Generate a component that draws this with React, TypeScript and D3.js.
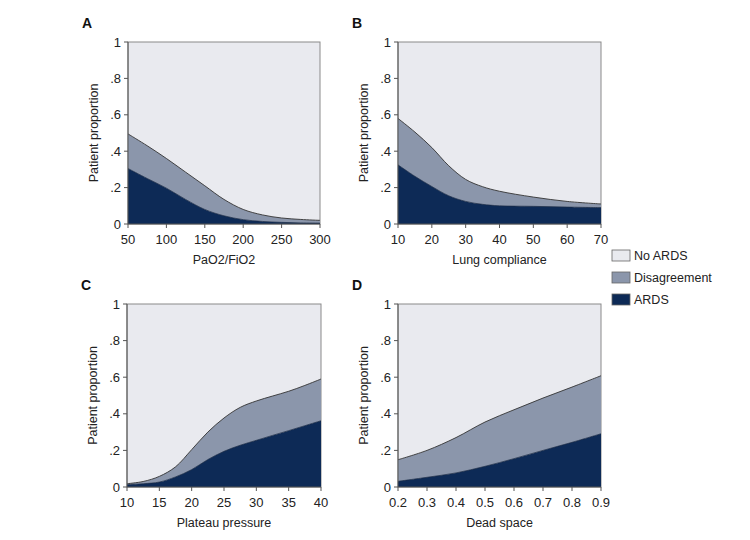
import React from "react";
import * as d3 from "d3";

const legendLabels = ["No ARDS", "Disagreement", "ARDS"];
const colors = ["#e9eaef", "#8b96ab", "#0d2a56"];

const yTicks = [0, 0.2, 0.4, 0.6, 0.8, 1];
const yTickLabels = ["0", ".2", ".4", ".6", ".8", "1"];

// Panel A: PaO2/FiO2
const aX = [50, 75, 100, 125, 150, 175, 200, 225, 250, 275, 300];
const aArds = [0.305, 0.25, 0.197, 0.135, 0.08, 0.045, 0.024, 0.014, 0.009, 0.006, 0.005];
const aTop = [0.495, 0.43, 0.36, 0.285, 0.21, 0.135, 0.08, 0.05, 0.033, 0.025, 0.02];
const aTicks = [50, 100, 150, 200, 250, 300];

// Panel B: Lung compliance
const bX = [10, 15, 20, 25, 30, 35, 40, 50, 60, 70];
const bArds = [0.325, 0.262, 0.206, 0.155, 0.124, 0.108, 0.1, 0.097, 0.093, 0.09];
const bTop = [0.58, 0.505, 0.42, 0.32, 0.245, 0.205, 0.18, 0.148, 0.124, 0.11];
const bTicks = [10, 20, 30, 40, 50, 60, 70];

// Panel C: Plateau pressure
const cX = [10, 12.5, 15, 17.5, 20, 22.5, 25, 27.5, 30, 32.5, 35, 37.5, 40];
const cArds = [0.013, 0.018, 0.027, 0.055, 0.095, 0.15, 0.195, 0.228, 0.255, 0.282, 0.308, 0.335, 0.362];
const cTop = [0.018, 0.03, 0.058, 0.11, 0.204, 0.3, 0.377, 0.435, 0.47, 0.497, 0.523, 0.555, 0.59];
const cTicks = [10, 15, 20, 25, 30, 35, 40];

// Panel D: Dead space
const dX = [0.2, 0.3, 0.4, 0.5, 0.6, 0.7, 0.8, 0.9];
const dArds = [0.031, 0.053, 0.077, 0.113, 0.155, 0.2, 0.244, 0.291];
const dTop = [0.149, 0.2, 0.27, 0.355, 0.422, 0.486, 0.546, 0.608];
const dTicks = [0.2, 0.3, 0.4, 0.5, 0.6, 0.7, 0.8, 0.9];

const font = "Liberation Sans, Arial, sans-serif";

type PanelProps = {
  letter: string;
  xs: number[];
  ards: number[];
  top: number[];
  ticks: number[];
  tickFmt: (v: number) => string;
  title: string;
  left: number;
  right: number;
  topY: number;
  bottomY: number;
};

function Panel(p: PanelProps) {
  const x = d3.scaleLinear().domain([p.xs[0], p.xs[p.xs.length - 1]]).range([p.left, p.right]);
  const y = d3.scaleLinear().domain([0, 1]).range([p.bottomY, p.topY]);
  const idx = p.xs.map((_, i) => i);
  const curve = d3.curveCatmullRom.alpha(0.5);
  const areaArds = d3.area<number>().x((i) => x(p.xs[i])).y0(y(0)).y1((i) => y(p.ards[i])).curve(curve);
  const areaDis = d3.area<number>().x((i) => x(p.xs[i])).y0((i) => y(p.ards[i])).y1((i) => y(p.top[i])).curve(curve);
  const lineArds = d3.line<number>().x((i) => x(p.xs[i])).y((i) => y(p.ards[i])).curve(curve);
  const lineTop = d3.line<number>().x((i) => x(p.xs[i])).y((i) => y(p.top[i])).curve(curve);
  return (
    <g>
      <text x={p.left - 46} y={p.topY - 14} fontFamily={font} fontWeight="bold" fontSize={14} fill="#111">
        {p.letter}
      </text>
      <rect x={p.left} y={p.topY} width={p.right - p.left} height={p.bottomY - p.topY} fill={colors[0]} stroke="#8a8a8a" strokeWidth={1} />
      <path d={areaDis(idx) || ""} fill={colors[1]} />
      <path d={areaArds(idx) || ""} fill={colors[2]} />
      <path d={lineTop(idx) || ""} fill="none" stroke="#333" strokeWidth={0.9} />
      <path d={lineArds(idx) || ""} fill="none" stroke="#1a2a44" strokeWidth={0.7} />
      <line x1={p.left} x2={p.left} y1={p.topY} y2={p.bottomY} stroke="#555" strokeWidth={1} />
      <line x1={p.left} x2={p.right} y1={p.bottomY} y2={p.bottomY} stroke="#555" strokeWidth={1} />
      {yTicks.map((t, i) => (
        <g key={"y" + i}>
          <line x1={p.left - 4} x2={p.left} y1={y(t)} y2={y(t)} stroke="#555" />
          <text x={p.left - 7} y={y(t) + 4.5} textAnchor="end" fontFamily={font} fontSize={13} fill="#222">
            {yTickLabels[i]}
          </text>
        </g>
      ))}
      {p.ticks.map((t, i) => (
        <g key={"x" + i}>
          <line x1={x(t)} x2={x(t)} y1={p.bottomY} y2={p.bottomY + 4} stroke="#555" />
          <text x={x(t)} y={p.bottomY + 20} textAnchor="middle" fontFamily={font} fontSize={13} fill="#222">
            {p.tickFmt(t)}
          </text>
        </g>
      ))}
      <text x={(p.left + p.right) / 2} y={p.bottomY + 40} textAnchor="middle" fontFamily={font} fontSize={12.5} fill="#222">
        {p.title}
      </text>
      <text
        transform={`translate(${p.left - 30},${(p.topY + p.bottomY) / 2}) rotate(-90)`}
        textAnchor="middle"
        fontFamily={font}
        fontSize={12.5}
        fill="#222"
      >
        Patient proportion
      </text>
    </g>
  );
}

export default function App() {
  const intFmt = (v: number) => String(v);
  const decFmt = d3.format(".1f");
  return (
    <svg width={750} height={540} style={{ position: "absolute", left: 0, top: 0, background: "#fff" }}>
      <Panel letter="A" xs={aX} ards={aArds} top={aTop} ticks={aTicks} tickFmt={intFmt} title="PaO2/FiO2" left={128} right={320} topY={42} bottomY={224} />
      <Panel letter="B" xs={bX} ards={bArds} top={bTop} ticks={bTicks} tickFmt={intFmt} title="Lung compliance" left={398} right={601} topY={42} bottomY={224} />
      <Panel letter="C" xs={cX} ards={cArds} top={cTop} ticks={cTicks} tickFmt={intFmt} title="Plateau pressure" left={127} right={321} topY={304} bottomY={487} />
      <Panel letter="D" xs={dX} ards={dArds} top={dTop} ticks={dTicks} tickFmt={(v) => decFmt(v)} title="Dead space" left={398} right={601} topY={304} bottomY={487} />
      {legendLabels.map((l, i) => (
        <g key={l}>
          <rect x={612} y={250 + i * 22} width={18} height={11} fill={colors[i]} stroke="#666" strokeWidth={0.8} />
          <text x={634} y={260 + i * 22} fontFamily={font} fontSize={12.5} fill="#222">
            {l}
          </text>
        </g>
      ))}
    </svg>
  );
}
